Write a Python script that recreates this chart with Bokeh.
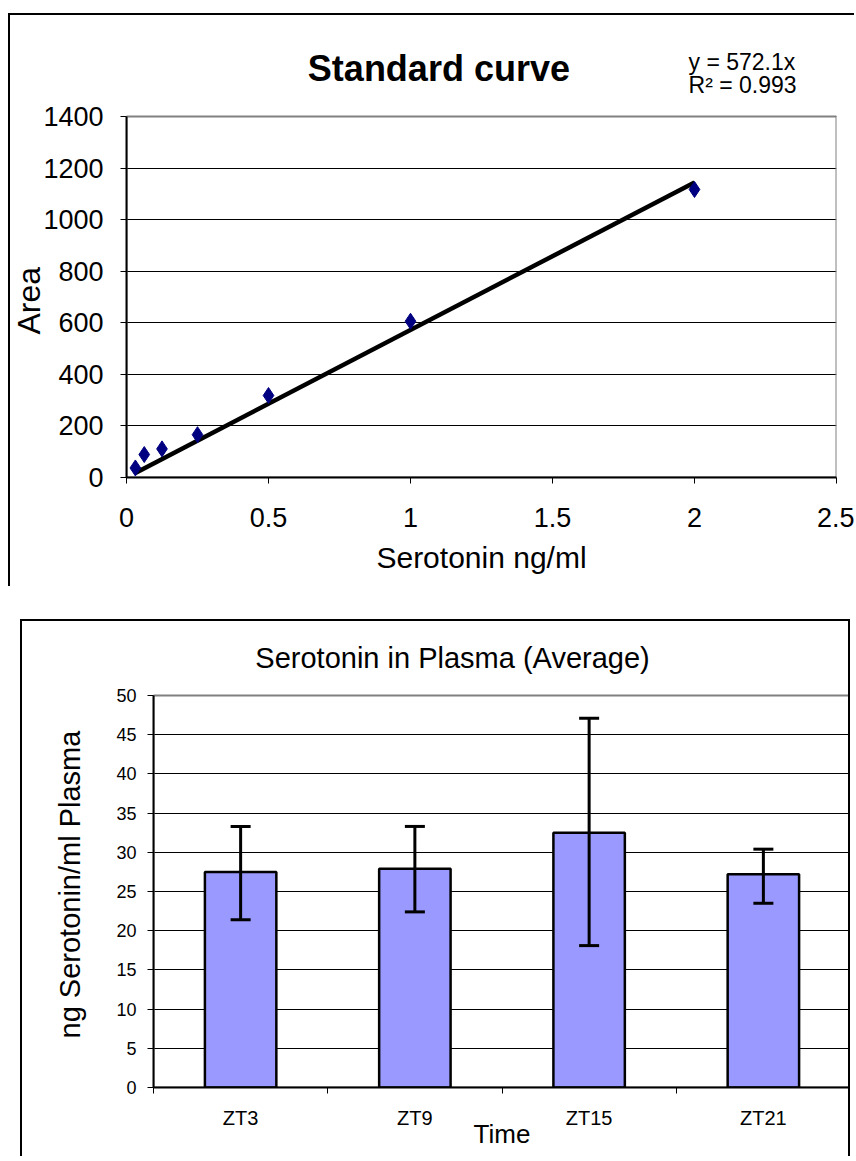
from bokeh.plotting import figure
from bokeh.layouts import column, row
from bokeh.models import (ColumnDataSource, Label, FixedTicker, NumeralTickFormatter,
                          Whisker, TeeHead, Range1d, Spacer, Title)
from bokeh.embed import file_html
from bokeh.resources import INLINE

# ---------------- data ----------------
conc = [0.03125, 0.0625, 0.125, 0.25, 0.5, 1, 2]
area = [37, 89, 111, 166, 318, 606, 1117]
slope = 572.1
r2 = 0.993

times = ["ZT3", "ZT9", "ZT15", "ZT21"]
means = [27.5, 27.9, 32.5, 27.2]
err_hi = [33.3, 33.3, 47.1, 30.4]
err_lo = [21.4, 22.4, 18.1, 23.5]

FONT = "Liberation Sans"

# ---------------- standard curve ----------------
X1_MAX, Y1_MAX = 2.5, 1400
p1 = figure(width=846, height=573, output_backend="svg", toolbar_location=None,
            x_range=Range1d(0, X1_MAX), y_range=Range1d(0, 1791.7),
            min_border_left=116, min_border_right=20, min_border_top=0,
            min_border_bottom=111)
p1.styles = {"border-left": "2px solid black", "border-top": "2px solid black"}
p1.outline_line_color = None

p1.xaxis.ticker = FixedTicker(ticks=[0, 0.5, 1, 1.5, 2, 2.5])
p1.xaxis.formatter = NumeralTickFormatter(format="0.[0]")
p1.yaxis.ticker = FixedTicker(ticks=list(range(0, Y1_MAX + 1, 200)))
p1.yaxis.bounds = (0, Y1_MAX)
for ax in (p1.xaxis[0], p1.yaxis[0]):
    ax.major_label_text_font = FONT
    ax.major_label_text_font_size = "27px"
    ax.major_label_text_color = "black"
    ax.axis_label_text_font = FONT
    ax.axis_label_text_font_style = "normal"
    ax.axis_label_text_font_size = "30px"
    ax.axis_label_text_color = "black"
    ax.axis_line_color = "black"
    ax.axis_line_width = 2
    ax.major_tick_line_color = "black"
    ax.major_tick_line_width = 1
    ax.major_tick_in = 0
    ax.major_tick_out = 6
    ax.minor_tick_line_color = None
p1.xaxis.axis_label = "Serotonin ng/ml"
p1.xaxis.major_label_standoff = 24
p1.yaxis.major_label_standoff = 17
p1.xaxis.axis_label_standoff = 11
p1.xgrid.grid_line_color = None
p1.ygrid.grid_line_color = "black"
p1.ygrid.grid_line_width = 1
p1.add_layout(Title(text="Area", align="left", offset=143, vertical_align="middle",
                    standoff=-14, text_font=FONT, text_font_style="normal",
                    text_font_size="32px", text_color="black"), "left")

# plot-area border (grey, like the spreadsheet chart)
p1.quad(left=[0], right=[X1_MAX], bottom=[0], top=[Y1_MAX], fill_color=None,
        line_color="#808080", line_width=2)

src1 = ColumnDataSource(dict(x=conc, y=area))
tx = [conc[0], conc[-1]]
p1.line(x=tx, y=[slope * v for v in tx], line_color="black", line_width=4.5)
p1.scatter("x", "y", source=src1, marker="diamond", size=16,
           fill_color="#000080", line_color="#000080")

p1.add_layout(Label(x=1.10, y=1585, text="Standard curve", text_align="center",
                    text_baseline="middle", text_font=FONT, text_font_style="bold",
                    text_font_size="36px", text_color="black"))
p1.add_layout(Label(x=1.979, y=1612, text="y = %.1fx" % slope, text_align="left",
                    text_baseline="middle", text_font=FONT,
                    text_font_size="23px", text_color="black"))
p1.add_layout(Label(x=1.979, y=1523, text="R\u00b2 = %.3f" % r2, text_align="left",
                    text_baseline="middle", text_font=FONT,
                    text_font_size="23px", text_color="black"))

# ---------------- bar chart ----------------
Y2_MAX = 50
xs = [i + 0.5 for i in range(len(times))]
src2 = ColumnDataSource(dict(x=xs, top=means, upper=err_hi, lower=err_lo))

p2 = figure(width=830, height=537, output_backend="svg", toolbar_location=None,
            x_range=Range1d(0, len(times)), y_range=Range1d(0, 59.44),
            min_border_left=131, min_border_right=2, min_border_top=0,
            min_border_bottom=71)
p2.styles = {"border-left": "2px solid black", "border-top": "2px solid black",
             "border-right": "2px solid black"}
p2.outline_line_color = None

p2.xaxis.ticker = FixedTicker(ticks=xs, minor_ticks=list(range(0, len(times) + 1)))
p2.xaxis.major_label_overrides = {x: t for x, t in zip(xs, times)}
p2.yaxis.ticker = FixedTicker(ticks=list(range(0, Y2_MAX + 1, 5)))
p2.yaxis.bounds = (0, Y2_MAX)
for ax in (p2.xaxis[0], p2.yaxis[0]):
    ax.major_label_text_font = FONT
    ax.major_label_text_color = "black"
    ax.axis_label_text_font = FONT
    ax.axis_label_text_font_style = "normal"
    ax.axis_label_text_color = "black"
    ax.axis_line_color = "black"
    ax.axis_line_width = 2
    ax.major_tick_line_color = "black"
    ax.major_tick_in = 0
    ax.major_tick_out = 6
p2.yaxis.major_label_text_font_size = "18px"
p2.xaxis.major_label_text_font_size = "20px"
p2.yaxis.minor_tick_line_color = None
p2.xaxis.major_tick_out = 0
p2.xaxis.minor_tick_line_color = "black"
p2.xaxis.minor_tick_in = 0
p2.xaxis.minor_tick_out = 6
p2.xaxis.axis_label = "Time"
p2.xaxis.axis_label_text_font_size = "26px"
p2.yaxis.major_label_standoff = 11
p2.xaxis.major_label_standoff = 13
p2.xaxis.axis_label_standoff = -13
p2.xgrid.grid_line_color = None
p2.ygrid.grid_line_color = "black"
p2.ygrid.grid_line_width = 1
p2.add_layout(Title(text="ng Serotonin/ml Plasma", align="left", offset=49,
                    vertical_align="middle", standoff=53, text_font=FONT,
                    text_font_style="normal", text_font_size="29px",
                    text_color="black"), "left")

p2.quad(left=[0], right=[len(times)], bottom=[0], top=[Y2_MAX], fill_color=None,
        line_color="#808080", line_width=2)
p2.vbar(x="x", top="top", bottom=0, width=0.41, source=src2,
        fill_color="#9999FF", line_color="black", line_width=2.5)
p2.add_layout(Whisker(source=src2, base="x", upper="upper", lower="lower",
                      level="overlay", line_color="black", line_width=3,
                      upper_head=TeeHead(size=20, line_width=3, line_color="black"),
                      lower_head=TeeHead(size=20, line_width=3, line_color="black")))

p2.add_layout(Label(x=1.716, y=54.75, text="Serotonin in Plasma (Average)",
                    text_align="center", text_baseline="middle", text_font=FONT,
                    text_font_size="29px", text_color="black"))

layout = column(Spacer(height=13), row(Spacer(width=8), p1), Spacer(height=33),
                row(Spacer(width=20), p2))
open("out.html", "w").write(file_html(layout, INLINE))
